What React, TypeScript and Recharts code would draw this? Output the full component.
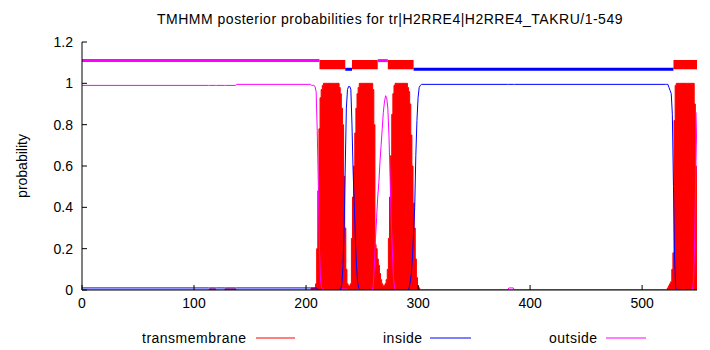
import React from "react";
import {
  ComposedChart,
  Area,
  Line,
  XAxis,
  YAxis,
  ReferenceArea,
  ReferenceLine,
} from "recharts";

const FONT = "'Liberation Sans', Arial, Helvetica, sans-serif";
const RED = "#ff0000";
const BLUE = "#0000ff";
const MAGENTA = "#ff00ff";

const TITLE = "TMHMM posterior probabilities for tr|H2RRE4|H2RRE4_TAKRU/1-549";
const xTicks = [0, 100, 200, 300, 400, 500];
const yTicks = [0, 0.2, 0.4, 0.6, 0.8, 1, 1.2];
const seqLength = 549;

// Stretches where posteriors are constant (residue from..to)
const flatFrom = [0, 114, 120, 128, 138, 303, 381, 386];
const flatTo = [113, 119, 127, 137, 204, 380, 385, 521];
const flatTM = [0, 0.005, 0, 0.005, 0, 0, 0, 0];
const flatInside = [0.01, 0.01, 0.01, 0.01, 0.01, 0.995, 0.995, 0.995];
const flatOutside = [0.99, 0.99, 0.99, 0.99, 0.995, 0, 0.01, 0];

// Per-residue posteriors, residues 205..302
const win1Start = 205;
const win1TM = [
  0.01, 0.01, 0.01, 0.01, 0.03, 0.2, 0.48, 0.78, 0.93, 0.97, 0.99,
  1, 1, 1, 1, 1, 1, 1, 1, 1, 1, 1, 1, 1, 1,
  0.98, 0.95, 0.88, 0.8, 0.55, 0.3, 0.1, 0.03, 0.02, 0.02, 0.03, 0.25, 0.45, 0.6, 0.76, 0.88, 0.95, 0.98,
  1, 1, 1, 1, 1, 1, 1, 1, 1, 1, 1, 1,
  0.97, 0.8, 0.22, 0.2, 0.15, 0.12, 0.08, 0.05, 0.03, 0.02, 0.02, 0.03, 0.05, 0.1, 0.25, 0.45, 0.65, 0.85, 0.95, 0.99,
  1, 1, 1, 1, 1, 1, 1, 1, 1, 1, 1,
  0.98, 0.96, 0.9, 0.75, 0.6, 0.42, 0.3, 0.15, 0.06, 0.02, 0.01, 0,
];
const win1Inside = [
  0.01, 0.01, 0.01, 0.01, 0.01, 0.005, 0.003, 0.002, 0.001, 0, 0,
  0, 0, 0, 0, 0, 0, 0, 0, 0, 0, 0, 0, 0, 0,
  0, 0.005, 0.03, 0.12, 0.3, 0.6, 0.88, 0.97, 0.985, 0.985, 0.97, 0.8, 0.58, 0.42, 0.25, 0.12, 0.04, 0.01,
  0, 0, 0, 0, 0, 0, 0, 0, 0, 0, 0, 0,
  0, 0, 0, 0, 0, 0, 0, 0, 0, 0, 0, 0, 0, 0, 0, 0, 0, 0, 0, 0,
  0, 0, 0, 0, 0, 0, 0, 0, 0, 0, 0,
  0, 0.01, 0.04, 0.08, 0.16, 0.28, 0.4, 0.65, 0.82, 0.93, 0.98, 0.99,
];
const win1Outside = [
  0.99, 0.99, 0.99, 0.985, 0.96, 0.77, 0.5, 0.2, 0.04, 0.01, 0.005,
  0, 0, 0, 0, 0, 0, 0, 0, 0, 0, 0, 0, 0, 0,
  0, 0, 0.005, 0.005, 0.005, 0.005, 0.005, 0, 0, 0, 0, 0, 0, 0, 0, 0, 0, 0,
  0, 0, 0, 0, 0, 0, 0, 0, 0, 0, 0, 0,
  0.02, 0.12, 0.25, 0.35, 0.45, 0.52, 0.62, 0.7, 0.78, 0.86, 0.91, 0.94, 0.93, 0.88, 0.75, 0.55, 0.35, 0.2, 0.06, 0.01,
  0, 0, 0, 0, 0, 0, 0, 0, 0, 0, 0,
  0, 0, 0, 0, 0, 0, 0, 0, 0, 0, 0, 0,
];

// Per-residue posteriors, residues 522..549
const win2Start = 522;
const win2TM = [
  0, 0.01, 0.02, 0.03, 0.04, 0.1, 0.18, 0.82, 0.99,
  1, 1, 1, 1, 1, 1, 1, 1, 1, 1, 1, 1, 1, 1, 1, 1,
  0.9, 0.6, 0.15,
];
const win2Inside = [
  0.995, 0.995, 0.98, 0.965, 0.95, 0.85, 0.5, 0.15, 0.01,
  0, 0, 0, 0, 0, 0, 0, 0, 0, 0, 0, 0, 0, 0, 0, 0, 0, 0, 0,
];
const win2Outside = [
  0, 0, 0, 0, 0, 0, 0, 0, 0, 0, 0, 0, 0, 0, 0, 0, 0, 0, 0, 0, 0, 0, 0, 0,
  0.05, 0.26, 0.6, 0.86,
];

// Predicted topology (top strip)
const topoStart = [0, 212, 235, 241, 264, 273, 296, 528];
const topoEnd = [212, 235, 241, 264, 273, 296, 528, 549];
const topoState = ["outside", "TM", "inside", "TM", "outside", "TM", "inside", "TM"];

type Row = { r: number; tm: number; ins: number; out: number };

const rows: Row[] = [];
flatFrom.forEach((f, i) => {
  rows.push({ r: f, tm: flatTM[i], ins: flatInside[i], out: flatOutside[i] });
  if (flatTo[i] !== f)
    rows.push({ r: flatTo[i], tm: flatTM[i], ins: flatInside[i], out: flatOutside[i] });
});
win1TM.forEach((v, i) =>
  rows.push({ r: win1Start + i, tm: v, ins: win1Inside[i], out: win1Outside[i] })
);
win2TM.forEach((v, i) =>
  rows.push({ r: win2Start + i, tm: v, ins: win2Inside[i], out: win2Outside[i] })
);
rows.sort((a, b) => a.r - b.r);

const XTick = (props: any) => {
  const { x, y, payload } = props;
  return (
    <g>
      <line x1={x} x2={x} y1={y} y2={y - 5} stroke="#000" />
      <text x={x} y={y + 18} textAnchor="middle" fontSize={14} fontFamily={FONT} fill="#000">
        {payload.value}
      </text>
    </g>
  );
};
const YTick = (props: any) => {
  const { x, y, payload } = props;
  return (
    <g>
      <line x1={x} x2={x + 5} y1={y} y2={y} stroke="#000" />
      <text x={x - 9} y={y + 5} textAnchor="end" fontSize={14} fontFamily={FONT} fill="#000">
        {payload.value}
      </text>
    </g>
  );
};
const RightTick = (props: any) => {
  const { x, y } = props;
  return <line x1={x} x2={x - 5} y1={y} y2={y} stroke="#000" />;
};
const TopTick = (props: any) => {
  const { x, y } = props;
  return <line x1={x} x2={x} y1={y} y2={y + 5} stroke="#000" />;
};

export default function App() {
  return (
    <div style={{ position: "absolute", left: 0, top: 0, width: 710, height: 350, background: "#fff" }}>
      <ComposedChart
        width={710}
        height={350}
        data={rows}
        margin={{ top: 42, right: 13, bottom: 0, left: 0 }}
      >
        <XAxis
          dataKey="r"
          type="number"
          domain={[0, seqLength]}
          ticks={xTicks}
          height={60}
          tickSize={0}
          tickMargin={0}
          tickLine={false}
          axisLine={{ stroke: "#000" }}
          tick={<XTick />}
          allowDataOverflow
        />
        <XAxis
          xAxisId="top"
          orientation="top"
          type="number"
          domain={[0, seqLength]}
          ticks={xTicks}
          height={0}
          tickSize={0}
          tickMargin={0}
          tickLine={false}
          axisLine={{ stroke: "#000" }}
          tick={<TopTick />}
          allowDataOverflow
        />
        <YAxis
          type="number"
          domain={[0, 1.2]}
          ticks={yTicks}
          width={82}
          tickSize={0}
          tickMargin={0}
          tickLine={false}
          axisLine={{ stroke: "#000" }}
          tick={<YTick />}
          allowDataOverflow
        />
        <YAxis
          yAxisId="right"
          orientation="right"
          type="number"
          domain={[0, 1.2]}
          ticks={yTicks}
          width={0}
          tickSize={0}
          tickMargin={0}
          tickLine={false}
          axisLine={{ stroke: "#000" }}
          tick={<RightTick />}
          allowDataOverflow
        />
        <Area
          dataKey="tm"
          type="step"
          stroke={RED}
          strokeWidth={1}
          fill={RED}
          fillOpacity={1}
          isAnimationActive={false}
          dot={false}
          activeDot={false}
        />
        <Line
          dataKey="ins"
          type="linear"
          stroke={BLUE}
          strokeWidth={1}
          dot={false}
          activeDot={false}
          isAnimationActive={false}
        />
        <Line
          dataKey="out"
          type="linear"
          stroke={MAGENTA}
          strokeWidth={1}
          dot={false}
          activeDot={false}
          isAnimationActive={false}
        />
        {topoState.map((s, i) =>
          s === "TM" ? (
            <ReferenceArea
              key={"t" + i}
              x1={topoStart[i]}
              x2={topoEnd[i]}
              y1={1.068}
              y2={1.113}
              fill={RED}
              fillOpacity={1}
              stroke="none"
              ifOverflow="visible"
            />
          ) : (
            <ReferenceLine
              key={"t" + i}
              segment={[
                { x: topoStart[i], y: s === "inside" ? 1.068 : 1.11 },
                { x: topoEnd[i], y: s === "inside" ? 1.068 : 1.11 },
              ]}
              stroke={s === "inside" ? BLUE : MAGENTA}
              strokeWidth={3}
              ifOverflow="visible"
            />
          )
        )}
      </ComposedChart>
      <svg
        width={710}
        height={350}
        style={{ position: "absolute", left: 0, top: 0, pointerEvents: "none" }}
        fontFamily={FONT}
        fontSize={14}
      >
        <text x={390} y={24} textAnchor="middle" fill="#000" letterSpacing={0.5}>{TITLE}</text>
        <text x={0} y={0} textAnchor="middle" fill="#000" transform="translate(27,166) rotate(-90)">
          probability
        </text>
        <text x={142} y={343} textAnchor="start" fill="#000" letterSpacing={0.5}>transmembrane</text>
        <line x1={256} x2={295} y1={338} y2={338} stroke={RED} />
        <text x={383} y={343} textAnchor="start" fill="#000" letterSpacing={0.5}>inside</text>
        <line x1={430} x2={471} y1={338} y2={338} stroke={BLUE} />
        <text x={549} y={343} textAnchor="start" fill="#000" letterSpacing={0.5}>outside</text>
        <line x1={606} x2={646} y1={338} y2={338} stroke={MAGENTA} />
      </svg>
    </div>
  );
}
